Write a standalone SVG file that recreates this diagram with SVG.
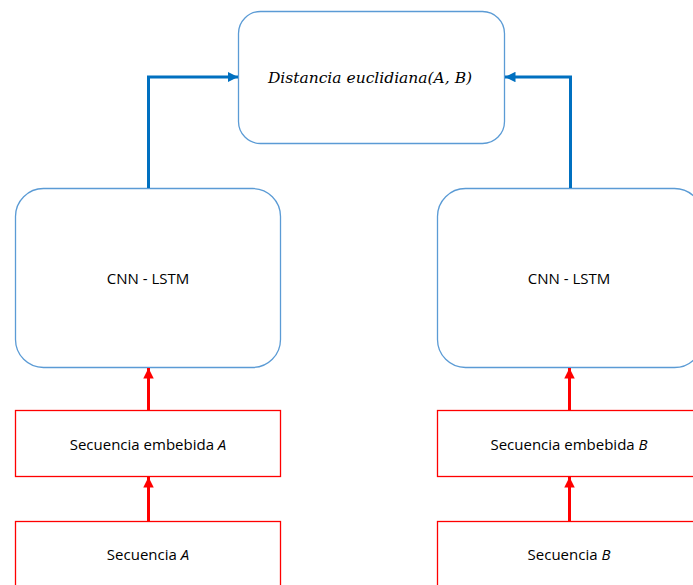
<svg xmlns="http://www.w3.org/2000/svg" width="693" height="585" viewBox="0 0 693 585">
  <style>
    .blue { fill: #ffffff; stroke: #5b9bd5; stroke-width: 1.3; }
    .red { fill: #ffffff; stroke: #ff0000; stroke-width: 1.3; }
    .lbl { font-family: "Open Sans", "Liberation Sans", Arial, sans-serif; font-size: 15px; fill: #000000; text-anchor: middle; }
    .math { font-family: "DejaVu Serif", serif; font-style: italic; font-size: 15.5px; fill: #000000; text-anchor: middle; }
    .cb { fill: none; stroke: #0070c0; stroke-width: 3; }
    .cr { fill: none; stroke: #ff0000; stroke-width: 3; }
  </style>
  <defs>
    <marker id="ahBlue" viewBox="0 0 10 10" refX="10" refY="5" markerWidth="3.5" markerHeight="3.5" orient="auto" markerUnits="strokeWidth">
      <path d="M0,0 L10,5 L0,10 Z" fill="#0070c0"/>
    </marker>
    <marker id="ahRed" viewBox="0 0 10 10" refX="10" refY="5" markerWidth="3.5" markerHeight="3.5" orient="auto" markerUnits="strokeWidth">
      <path d="M0,0 L10,5 L0,10 Z" fill="#ff0000"/>
    </marker>
  </defs>
  <rect width="693" height="585" fill="#ffffff"/>

  <g id="distancia">
    <rect class="blue" x="238.5" y="11.5" width="266" height="132" rx="22" ry="22"/>
    <text class="math" x="370" y="83">Distancia euclidiana(A, B)</text>
  </g>

  <g id="cnn-lstm-a">
    <rect class="blue" x="15.5" y="188.5" width="265" height="179" rx="28" ry="28"/>
    <text class="lbl" x="148" y="284">CNN - LSTM</text>
  </g>

  <g id="cnn-lstm-b">
    <rect class="blue" x="437.5" y="188.5" width="265" height="179" rx="28" ry="28"/>
    <text class="lbl" x="569" y="284">CNN - LSTM</text>
  </g>

  <g id="embebida-a">
    <rect class="red" x="15.5" y="410.5" width="265" height="66"/>
    <text class="lbl" x="148" y="450">Secuencia embebida <tspan font-style="italic">A</tspan></text>
  </g>

  <g id="embebida-b">
    <rect class="red" x="437.5" y="410.5" width="265" height="66"/>
    <text class="lbl" x="569" y="450">Secuencia embebida <tspan font-style="italic">B</tspan></text>
  </g>

  <g id="secuencia-a">
    <rect class="red" x="15.5" y="521.5" width="265" height="80"/>
    <text class="lbl" x="148" y="560">Secuencia <tspan font-style="italic">A</tspan></text>
  </g>

  <g id="secuencia-b">
    <rect class="red" x="437.5" y="521.5" width="265" height="80"/>
    <text class="lbl" x="569" y="560">Secuencia <tspan font-style="italic">B</tspan></text>
  </g>

  <g id="connectors">
    <path class="cb" d="M148.5,188 V77 H238" marker-end="url(#ahBlue)"/>
    <path class="cb" d="M570.5,188 V77 H505" marker-end="url(#ahBlue)"/>
    <path class="cr" d="M148.5,410 V368" marker-end="url(#ahRed)"/>
    <path class="cr" d="M148.5,521 V477" marker-end="url(#ahRed)"/>
    <path class="cr" d="M569.5,410 V368" marker-end="url(#ahRed)"/>
    <path class="cr" d="M569.5,521 V477" marker-end="url(#ahRed)"/>
  </g>
</svg>
